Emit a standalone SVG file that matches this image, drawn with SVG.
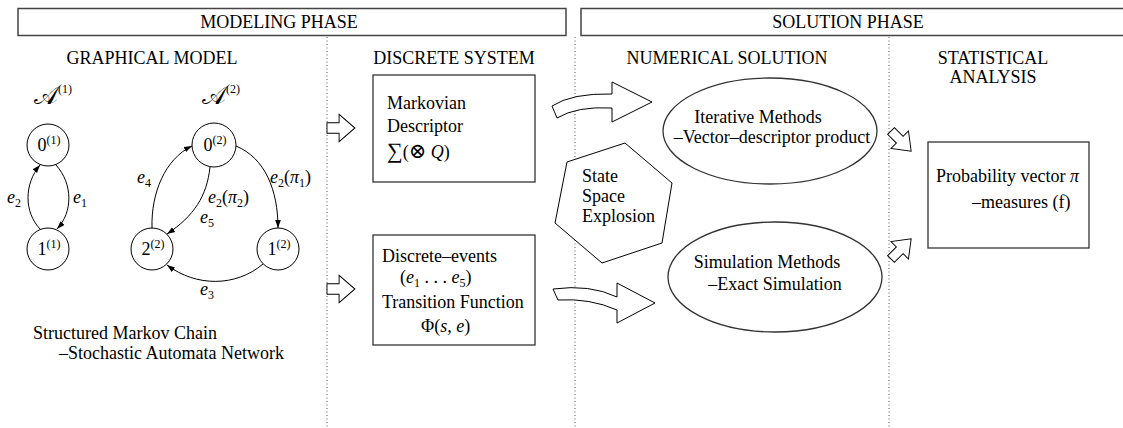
<svg xmlns="http://www.w3.org/2000/svg" width="1123" height="428" viewBox="0 0 1123 428">
  <defs>
    <style>
      text { font-family: "Liberation Serif", "Times New Roman", serif; font-size: 18px; fill: #000; }
      .mid { text-anchor: middle; }
      .it { font-style: italic; }
      .sup { font-size: 12px; font-style: normal; }
      .sub { font-size: 12px; font-style: normal; }
      .op { font-family: "DejaVu Serif", "DejaVu Sans", serif; font-weight: normal; }
      .hdr { fill: #fff; stroke: #444; stroke-width: 1.5; }
      .sep { stroke: #555; stroke-width: 1; stroke-dasharray: 1 2.5; fill: none; }
      .box { fill: #fff; stroke: #333; stroke-width: 1.3; }
      .state { fill: #fff; stroke: #000; stroke-width: 1; }
      .edge { fill: none; stroke: #000; stroke-width: 1; marker-end: url(#tip); }
      .hollow { fill: #fff; stroke: #000; stroke-width: 1; stroke-linejoin: miter; }
    </style>
    <marker id="tip" viewBox="0 0 10 10" refX="10" refY="5" markerWidth="8" markerHeight="8" orient="auto" markerUnits="userSpaceOnUse">
      <path d="M0,1.5 L10,5 L0,8.5 z" fill="#000"/>
    </marker>
    <!-- straight block arrow pointing along +x, tail at the origin -->
    <path id="block" d="M0,-5 L13,-5 L13,-13 L30,0 L13,13 L13,5 L0,5 Z"/>
  </defs>

  <!-- phase banners -->
  <g id="modeling-phase">
    <rect class="hdr" x="18" y="8.5" width="548" height="27"/>
    <text class="mid" x="279" y="28">MODELING PHASE</text>
  </g>
  <g id="solution-phase">
    <rect class="hdr" x="581" y="8.5" width="560" height="27"/>
    <text class="mid" x="848" y="28">SOLUTION PHASE</text>
  </g>

  <!-- column separators -->
  <g id="separators">
    <line class="sep" x1="327" y1="37" x2="327" y2="428"/>
    <line class="sep" x1="575" y1="37" x2="575" y2="428"/>
    <line class="sep" x1="889" y1="37" x2="889" y2="428"/>
  </g>

  <!-- column titles -->
  <g id="titles">
    <text class="mid" x="152" y="64">GRAPHICAL MODEL</text>
    <text class="mid" x="454" y="64">DISCRETE SYSTEM</text>
    <text class="mid" x="727" y="64">NUMERICAL SOLUTION</text>
    <text class="mid" x="993" y="64">STATISTICAL</text>
    <text class="mid" x="993" y="83">ANALYSIS</text>
  </g>

  <!-- automaton A(1) -->
  <g id="automaton-1">
    <text x="34" y="104" style="font-size:25px">𝒜<tspan class="sup" dy="-11">(1)</tspan></text>
    <g id="a1-s0">
      <circle class="state" cx="48" cy="145" r="21"/>
      <text class="mid" x="49" y="151">0<tspan class="sup" dy="-7">(1)</tspan></text>
    </g>
    <g id="a1-s1">
      <circle class="state" cx="48" cy="249" r="21"/>
      <text class="mid" x="49" y="255">1<tspan class="sup" dy="-7">(1)</tspan></text>
    </g>
  </g>

  <!-- automaton A(2) -->
  <g id="automaton-2">
    <text x="202" y="104" style="font-size:25px">𝒜<tspan class="sup" dy="-11">(2)</tspan></text>
    <g id="a2-s0">
      <circle class="state" cx="214" cy="145" r="22"/>
      <text class="mid" x="215" y="151">0<tspan class="sup" dy="-7">(2)</tspan></text>
    </g>
    <g id="a2-s1">
      <circle class="state" cx="278" cy="249" r="21"/>
      <text class="mid" x="279" y="255">1<tspan class="sup" dy="-7">(2)</tspan></text>
    </g>
    <g id="a2-s2">
      <circle class="state" cx="152" cy="249" r="21"/>
      <text class="mid" x="153" y="255">2<tspan class="sup" dy="-7">(2)</tspan></text>
    </g>
  </g>

  <!-- transitions and flow arrows -->
  <g id="connectors">
    <path class="edge" d="M40,229 C24,212 24,184 40,165"/>
    <path class="edge" d="M56,165 C73,184 73,212 57,229"/>
    <path class="edge" d="M236,146 C265,158 278,190 278,228"/>
    <path class="edge" d="M210,167 C207,196 194,216 167,234"/>
    <path class="edge" d="M152,228 C151,193 165,159 192,146"/>
    <path class="edge" d="M263,264 C236,287 196,287 167,265"/>

    <!-- block arrows into the discrete system -->
    <use href="#block" class="hollow" transform="translate(327,128) scale(0.93,1.05)"/>
    <use href="#block" class="hollow" transform="translate(327,289) scale(0.93,1.05)"/>

    <!-- curved block arrows into the numerical solution -->
    <path class="hollow" d="M552,106 Q572,93 612,94 L612,82 L652,102 L612,122 L612,108 Q577,106 557,118 Z"/>
    <path class="hollow" d="M553,289 Q590,284 617,297 L617,283 L655,303 L617,323 L617,310 Q590,298 558,300 Z"/>

    <!-- block arrows into the statistical analysis -->
    <use href="#block" class="hollow" transform="translate(891,131) rotate(45) scale(0.95,0.95)"/>
    <use href="#block" class="hollow" transform="translate(891,259) rotate(-45) scale(0.95,0.95)"/>
  </g>

  <!-- transition labels -->
  <g id="edge-labels">
    <text class="it" x="7" y="203">e<tspan class="sub" dy="4">2</tspan></text>
    <text class="it" x="73" y="203">e<tspan class="sub" dy="4">1</tspan></text>
    <text class="it" x="137" y="183">e<tspan class="sub" dy="4">4</tspan></text>
    <text class="it" x="270" y="183">e<tspan class="sub" dy="4">2</tspan><tspan dy="-4" style="font-style:normal">(</tspan>π<tspan class="sub" dy="4">1</tspan><tspan dy="-4" style="font-style:normal">)</tspan></text>
    <text class="it" x="208" y="203">e<tspan class="sub" dy="4">2</tspan><tspan dy="-4" style="font-style:normal">(</tspan>π<tspan class="sub" dy="4">2</tspan><tspan dy="-4" style="font-style:normal">)</tspan></text>
    <text class="it" x="200" y="223">e<tspan class="sub" dy="4">5</tspan></text>
    <text class="it" x="200" y="295">e<tspan class="sub" dy="4">3</tspan></text>
  </g>

  <g id="model-caption">
    <text x="33" y="339">Structured Markov Chain</text>
    <text x="59" y="359">–Stochastic Automata Network</text>
  </g>

  <!-- discrete system -->
  <g id="markovian-descriptor">
    <rect class="box" x="373" y="75" width="162" height="107"/>
    <text x="387" y="109">Markovian</text>
    <text x="387" y="132">Descriptor</text>
    <text x="387" y="158"><tspan style="font-size:22px">∑</tspan>(<tspan class="op" style="font-size:21px">⊗</tspan> <tspan class="it">Q</tspan>)</text>
  </g>
  <g id="discrete-events">
    <rect class="box" x="373" y="235" width="162" height="110"/>
    <text x="382" y="262">Discrete–events</text>
    <text x="400" y="283">(<tspan class="it">e</tspan><tspan class="sub" dy="4">1</tspan><tspan dy="-4"> . . . </tspan><tspan class="it">e</tspan><tspan class="sub" dy="4">5</tspan><tspan dy="-4">)</tspan></text>
    <text x="382" y="308">Transition Function</text>
    <text x="421" y="332">Φ(<tspan class="it">s, e</tspan>)</text>
  </g>

  <!-- state space explosion -->
  <g id="state-space-explosion">
    <polygon class="hollow" points="567,162 625,143 672,183 662,243 602,263 555,223"/>
    <text x="582" y="182">State</text>
    <text x="582" y="202">Space</text>
    <text x="582" y="222">Explosion</text>
  </g>

  <!-- numerical solution methods -->
  <g id="iterative-methods">
    <ellipse class="box" cx="770" cy="131" rx="107" ry="53"/>
    <text class="mid" x="758" y="123">Iterative Methods</text>
    <text class="mid" x="772" y="143">–Vector–descriptor product</text>
  </g>
  <g id="simulation-methods">
    <ellipse class="box" cx="775" cy="277" rx="107" ry="55"/>
    <text class="mid" x="767" y="268">Simulation Methods</text>
    <text class="mid" x="775" y="290">–Exact Simulation</text>
  </g>

  <!-- statistical analysis -->
  <g id="probability-vector">
    <rect class="box" x="928" y="142" width="161" height="106"/>
    <text x="936" y="182">Probability vector <tspan class="it">π</tspan></text>
    <text x="972" y="208">–measures (f)</text>
  </g>
</svg>
